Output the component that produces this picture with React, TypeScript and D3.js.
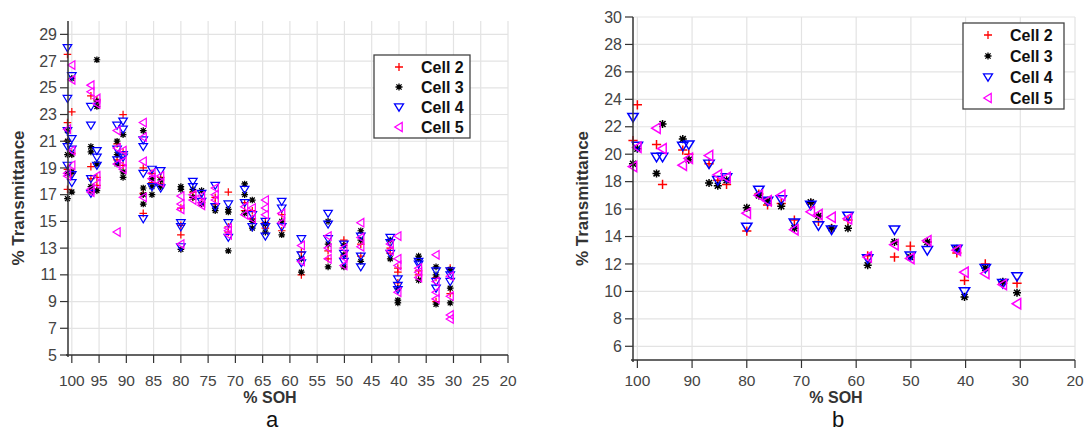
import React from 'react'
import * as d3 from 'd3'

// SOH levels (shared x positions of the measurement columns)
const SOH = [100.8, 100, 96.5, 95.4, 91.7, 90.6, 86.9, 85.3, 83.7, 80, 77.8, 76.2, 73.7, 71.3,
  68.3, 66.9, 64.5, 61.5, 57.9, 53, 50.1, 47, 41.6, 40.2, 36.4, 33.2, 30.6]

// panel a: several readings per SOH level
const cell2A = [[27.5, 22.4, 21.0, 18.9, 17.4], [23.2, 20.1, 18.6], [24.4, 19.1, 18.2], [24.1, 18.3, 17.7],
  [20.8, 19.6], [23.0, 20.2, 19.2], [19.0, 17.1, 15.6], [18.6, 17.9], [18.3, 17.8], [14.7, 14.0, 16.0],
  [17.2, 16.8], [16.7, 16.4], [16.8, 16.3], [17.2, 14.6, 14.2], [15.8, 16.4], [15.2, 15.8], [14.5, 14.9],
  [15.5, 14.3], [12.7, 11.0], [12.2, 12.8], [13.6, 12.4], [12.4, 13.3], [13.0, 12.6], [11.5, 11.2, 10.4],
  [11.3, 11.0], [10.8, 9.0], [11.5, 9.6]]
const cell3A = [[21.8, 21.0, 20.0, 18.6, 16.7], [25.7, 20.0, 18.7, 17.2], [20.6, 20.2, 17.6, 17.3],
  [27.1, 24.0, 23.6, 19.3, 17.3], [21.0, 20.0, 19.3], [21.5, 18.7, 18.3], [21.8, 17.5, 16.3, 17.0],
  [18.2, 17.0, 17.6], [18.1, 17.6], [17.6, 17.4, 12.9], [17.4, 16.8], [17.3, 16.3], [16.0, 15.8],
  [15.9, 15.7, 12.8], [17.8, 17.0, 15.6], [16.6, 15.0, 14.5], [14.8, 14.2], [15.0, 14.0], [12.2, 11.2],
  [15.0, 13.3, 11.6], [13.2, 12.5, 11.6], [14.3, 13.6, 12.0], [13.6, 12.2], [10.0, 9.1, 8.9],
  [12.4, 12.2, 10.6], [11.6, 11.0, 8.8], [11.4, 10.0, 8.9]]
const cell4A = [[28.0, 24.2, 21.8, 20.6, 19.2], [25.9, 21.2, 20.4, 18.5, 17.9], [23.6, 22.2, 18.2, 17.1],
  [20.3, 19.8, 19.2], [22.2, 20.4, 19.6], [22.5, 21.9, 20.0, 19.8], [21.1, 20.6, 18.6, 15.2], [18.9, 17.6],
  [18.8, 17.5], [14.9, 14.6, 13.1], [18.0, 17.6], [17.1, 16.5], [17.7, 16.1], [16.3, 14.9, 13.8],
  [17.4, 16.4], [15.5, 14.6], [15.0, 14.6, 13.9], [16.5, 16.0, 14.6], [13.7, 12.5, 11.9],
  [15.6, 14.8, 13.7], [13.3, 12.6, 12.0], [13.9, 12.4, 11.6], [13.8, 13.4, 12.6], [10.7, 10.2, 9.9],
  [12.0, 11.8], [11.3, 10.5, 10.0], [11.3, 11.0, 10.5]]
const cell5A = [[21.9, 18.6, 18.4], [26.7, 25.6, 20.3, 19.2], [25.2, 24.7, 17.4, 17.2], [24.2, 23.8, 18.4, 17.8],
  [21.8, 20.5, 19.3, 14.2], [20.3, 19.5, 18.9], [22.4, 21.3, 19.5, 16.8], [18.6, 18.2], [18.4, 17.9],
  [16.9, 16.3, 15.9, 13.3], [17.0, 16.6], [16.9, 16.4, 16.2], [17.5, 17.0, 16.6], [14.5, 14.3, 14.0],
  [16.1, 15.5], [16.0, 15.2], [16.6, 16.0, 15.5], [15.6, 14.9], [13.2, 12.0], [13.9, 13.0, 12.2],
  [13.0, 12.3, 11.7], [14.9, 13.8, 13.1], [13.3, 12.8], [13.9, 12.2, 11.7, 9.7], [11.5, 11.2, 10.8],
  [12.5, 10.5, 9.7, 9.2], [10.9, 9.4, 8.0, 7.7]]

// panel b: one value per SOH level
const cell2B = [21.0, 23.6, 20.7, 17.8, 20.3, 20.0, 19.3, 18.1, 17.8, 14.4, 17.1, 16.3, 16.4, 15.2,
  16.4, 15.1, 14.6, 15.2, 12.6, 12.5, 13.3, 13.6, 12.8, 10.8, 12.0, 10.6, 10.6]
const cell3B = [19.3, 20.4, 18.6, 22.2, 21.1, 19.6, 17.9, 17.7, 18.1, 16.1, 17.0, 16.6, 16.2, 14.6,
  16.5, 15.5, 14.6, 14.6, 11.9, 13.6, 12.5, 13.6, 13.1, 9.6, 11.7, 10.7, 9.9]
const cell4B = [22.7, 20.6, 19.8, 19.8, 20.6, 20.7, 19.3, 18.1, 18.3, 14.7, 17.4, 16.6, 16.7, 15.0,
  16.3, 14.8, 14.5, 15.5, 12.4, 14.5, 12.6, 13.0, 13.1, 10.0, 11.7, 10.6, 11.1]
const cell5B = [19.1, 20.5, 21.9, 20.4, 19.2, 19.7, 19.9, 18.5, 18.3, 15.7, 17.0, 16.6, 17.0, 14.5,
  15.8, 15.6, 15.4, 15.3, 12.5, 13.4, 12.4, 13.7, 13.0, 11.4, 11.3, 10.5, 9.1]

const CELLS = ['Cell 2', 'Cell 3', 'Cell 4', 'Cell 5']
const xTicksA = d3.range(100, 19, -5)
const yTicksA = d3.range(5, 30, 2)
const xTicksB = d3.range(100, 19, -10)
const yTicksB = d3.range(6, 31, 2)

const COLORS = ['#ff0000', '#000000', '#0000ff', '#ff00ff']
const FONT = 'Arial, "Liberation Sans", Helvetica, sans-serif'

function Marker({ kind, x, y, s = 1 }) {
  const c = COLORS[kind]
  const t = `translate(${x},${y}) scale(${s})`
  if (kind === 0)
    return <path transform={t} d="M-4,0H4M0,-4V4" stroke={c} strokeWidth={1.3} fill="none" />
  if (kind === 1)
    return (
      <g transform={t} stroke={c} strokeWidth={1.3}>
        <path d="M-3.5,0H3.5M0,-3.5V3.5M-2.6,-2.6L2.6,2.6M-2.6,2.6L2.6,-2.6" fill="none" />
        <circle r={1.8} fill={c} stroke="none" />
      </g>
    )
  if (kind === 2)
    return <path transform={t} d="M-4.5,-3.2L4.5,-3.2L0,4.2Z" stroke={c} strokeWidth={1.3} fill="none" />
  return <path transform={t} d="M-4.2,0L3.2,-4.5L3.2,4.5Z" stroke={c} strokeWidth={1.3} fill="none" />
}

function Panel({ xRange, xDomain, yRange, yDomain, xTicks, yTicks, series, ms, xLabelY, titleY, legend, letter, yTitleX, titleX }) {
  const x = d3.scaleLinear().domain(xDomain).range(xRange)
  const y = d3.scaleLinear().domain(yDomain).range(yRange)
  const [x0] = xRange
  const [y0, y1] = yRange
  const grid = '#e3e3e3'
  const axis = '#333'
  return (
    <g fontFamily={FONT}>
      {xTicks.map(t => (
        <line key={'gx' + t} x1={x(t)} x2={x(t)} y1={y0} y2={y1} stroke={grid} strokeWidth={1.2} />
      ))}
      {yTicks.map(t => (
        <line key={'gy' + t} x1={x0} x2={x(20)} y1={y(t)} y2={y(t)} stroke={grid} strokeWidth={1.2} />
      ))}
      {series.map((pts, k) =>
        pts.map((p, i) => <Marker key={k + '-' + i} kind={k} x={x(p[0])} y={y(p[1])} s={ms} />)
      )}
      <line x1={x0} x2={x0} y1={y1} y2={y0 + 2} stroke={axis} strokeWidth={1.5} />
      <line x1={x0 - 2} x2={x(20)} y1={y0} y2={y0} stroke={axis} strokeWidth={1.5} />
      {yTicks.map(t => (
        <g key={'ty' + t}>
          <line x1={x0 - 8} x2={x0} y1={y(t)} y2={y(t)} stroke={axis} strokeWidth={1.2} />
          <text x={x0 - 11} y={y(t)} dy="0.35em" textAnchor="end" fontSize={16} fill="#444">{t}</text>
        </g>
      ))}
      {xTicks.map(t => (
        <g key={'tx' + t}>
          <line x1={x(t)} x2={x(t)} y1={y0} y2={y0 + 8} stroke={axis} strokeWidth={1.2} />
          <text x={x(t)} y={xLabelY} textAnchor="middle" fontSize={15.5} fill="#444">{t}</text>
        </g>
      ))}
      <text transform={`translate(${yTitleX},${(y0 + y1) / 2 + 10}) rotate(-90)`} textAnchor="middle"
        fontSize={17} fontWeight="bold" fill="#333">% Transmittance</text>
      <text x={titleX} y={titleY} textAnchor="middle" fontSize={16} fontWeight="bold" fill="#333">% SOH</text>
      <text x={titleX + 2} y={426.5} textAnchor="middle" fontSize={22} fill="#111">{letter}</text>
      <g>
        <rect x={legend.x} y={legend.y} width={legend.w} height={legend.h} fill="#fff" stroke="#444" strokeWidth={1.3} />
        {CELLS.map((name, k) => (
          <g key={name}>
            <Marker kind={k} x={legend.x + legend.mx} y={legend.y + legend.top + k * legend.dy} s={1} />
            <text x={legend.x + legend.tx} y={legend.y + legend.top + k * legend.dy} dy="0.36em"
              fontSize={16} fontWeight="bold" fill="#111">{name}</text>
          </g>
        ))}
      </g>
    </g>
  )
}

export default function App() {
  const seriesA = [cell2A, cell3A, cell4A, cell5A].map(c =>
    c.flatMap((vals, i) => vals.map(v => [SOH[i], v])))
  const seriesB = [cell2B, cell3B, cell4B, cell5B].map(c => c.map((v, i) => [SOH[i], v]))
  return (
    <svg width={1088} height={432} style={{ position: 'absolute', left: 0, top: 0, background: '#fff' }}>
      <rect width={1088} height={432} fill="#fff" />
      <Panel xRange={[68, 508]} xDomain={[100.7, 20]} yRange={[355, 21]} yDomain={[5, 30]}
        xTicks={xTicksA} yTicks={yTicksA} series={seriesA} ms={0.95} xLabelY={386} titleY={403}
        legend={{ x: 374, y: 55, w: 96, h: 83, mx: 25, tx: 47, top: 12, dy: 20 }}
        letter="a" yTitleX={24} titleX={270} />
      <Panel xRange={[633, 1075]} xDomain={[100.8, 20]} yRange={[360, 17]} yDomain={[5, 30]}
        xTicks={xTicksB} yTicks={yTicksB} series={seriesB} ms={1.15} xLabelY={386} titleY={403}
        legend={{ x: 963, y: 23, w: 101, h: 86, mx: 25, tx: 47, top: 12, dy: 21 }}
        letter="b" yTitleX={588} titleX={836} />
    </svg>
  )
}
